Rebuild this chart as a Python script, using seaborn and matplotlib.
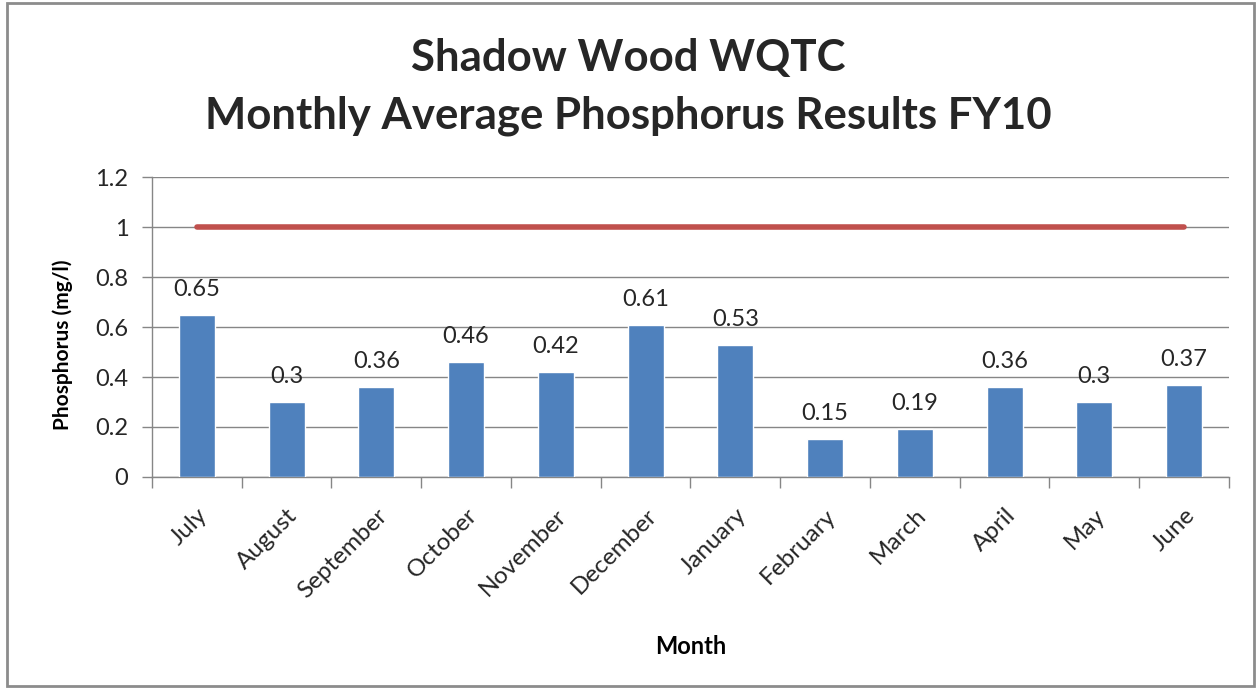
import matplotlib
matplotlib.use("Agg")
import matplotlib.pyplot as plt
import seaborn as sns
import pandas as pd
from matplotlib.patches import Rectangle

months = ["July", "August", "September", "October", "November", "December",
          "January", "February", "March", "April", "May", "June"]
phosphorus = [0.65, 0.30, 0.36, 0.46, 0.42, 0.61, 0.53, 0.15, 0.19, 0.36, 0.30, 0.37]
limit = [1, 1, 1, 1, 1, 1, 1, 1, 1, 1, 1, 1]
title = "Shadow Wood WQTC\nMonthly Average Phosphorus Results FY10"
yticks = [0, 0.2, 0.4, 0.6, 0.8, 1, 1.2]
ytick_labels = ["0", "0.2", "0.4", "0.6", "0.8", "1", "1.2"]

sns.set_theme(style="white")
plt.rcParams['font.family'] = ['Lato', 'DejaVu Sans']

df = pd.DataFrame({"Month": months, "Phosphorus": phosphorus, "Limit": limit})

fig = plt.figure(figsize=(12.57, 6.88), dpi=100)
ax = fig.add_axes([0.1209, 0.3067, 0.8568, 0.4360])

sns.barplot(data=df, x="Month", y="Phosphorus", color="#4F81BD", saturation=1,
            width=0.4, ax=ax, zorder=3)
sns.lineplot(x=list(range(len(months))), y=limit, color="#C0504D", linewidth=4,
             solid_capstyle="round", ax=ax, zorder=4)

ax.set_xlim(-0.5, len(months) - 0.5)
ax.set_ylim(0, 1.2)
ax.set_yticks(yticks)
ax.set_yticklabels(ytick_labels, fontsize=17, color="#262626")
ax.yaxis.grid(True, color="#868686", linewidth=1)
ax.set_axisbelow(True)
for s in ["top", "right"]:
    ax.spines[s].set_visible(False)
for s in ["left", "bottom"]:
    ax.spines[s].set_color("#868686")
    ax.spines[s].set_linewidth(1)

ax.set_xticks(range(len(months)))
ax.set_xticklabels(months, rotation=45, ha="right", rotation_mode="anchor",
                   fontsize=17.5, color="#262626")
ax.tick_params(axis="x", length=0, pad=20)
ax.set_xticks([i - 0.5 for i in range(len(months) + 1)], minor=True)
ax.tick_params(axis="x", which="minor", length=8, color="#868686", width=1, bottom=True)
ax.tick_params(axis="y", length=7, color="#868686", width=1, left=True, pad=10)

for i, v in enumerate(phosphorus):
    ax.text(i, v + 0.06, f"{v:g}", ha="center", va="bottom", fontsize=17, color="#262626")

ax.set_xlabel("Month", fontsize=17, fontweight="bold", labelpad=24, color="black")
ax.set_ylabel("Phosphorus (mg/l)", fontsize=15, fontweight="bold", color="black")
ax.yaxis.set_label_coords(-0.0733, 0.44)

fig.suptitle(title, fontsize=31.5, fontweight="bold", y=0.945, linespacing=1.55)

fig.patches.append(Rectangle((7 / 1257, 2 / 688), 1247 / 1257, 683 / 688,
                             transform=fig.transFigure, fill=False,
                             edgecolor="#8C8C8C", linewidth=2))

fig.savefig("out.png", dpi=100)
